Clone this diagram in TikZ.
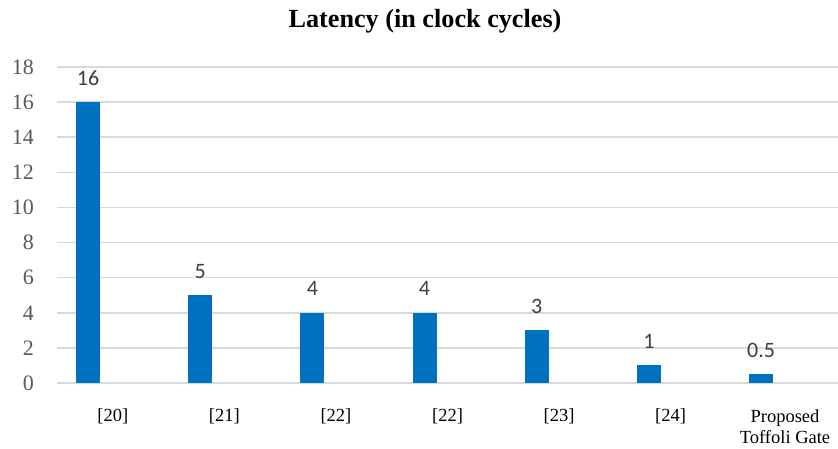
\documentclass[tikz,border=0pt]{standalone}
\usepackage{fontspec}
\setmainfont{Liberation Serif}
\newfontfamily\calfont{Carlito}
\definecolor{barblue}{HTML}{0070C0}
\definecolor{gridgray}{HTML}{D9D9D9}
\definecolor{ticktext}{HTML}{595959}
\definecolor{valtext}{HTML}{404040}
\tikzset{
  gridline/.style={draw=gridgray, line width=1.5pt},
  barfill/.style={fill=barblue},
  ticklbl/.style={anchor=east, inner sep=0pt, text=ticktext, font=\fontsize{22}{24}\selectfont},
  vallbl/.style={anchor=base, inner sep=0pt, text=valtext, font=\calfont\fontsize{22}{24}\selectfont},
  catlbl/.style={anchor=center, inner sep=0pt, align=center, text=black, font=\fontsize{18.5}{20.5}\selectfont},
  titlelbl/.style={anchor=center, inner sep=0pt, font=\bfseries\fontsize{26.2}{28}\selectfont}
}
\begin{document}
\begin{tikzpicture}[x=1pt,y=-1pt]
\useasboundingbox (0,0) rectangle (838,448);
\fill[white] (0,0) rectangle (838,448);
% title
\node[titlelbl] (title) at (425,21) {Latency (in clock cycles)};
% grid and tick labels
\foreach \v [count=\i from 0] in {0,2,4,6,8,10,12,14,16,18} {
  \draw[gridline] (57,{383-17.556*\v}) -- (838,{383-17.556*\v});
  \node[ticklbl] (tick\i) at (34,{383-17.556*\v}) {\v};
}
% bars and value labels
\foreach \val/\lbl [count=\i from 0] in {16/16,5/5,4/4,4/4,3/3,1/1,0.5/0.5} {
  \fill[barfill] ({76+112.17*\i},383) rectangle ({100+112.17*\i},{383-17.556*\val});
  \node[vallbl] (val\i) at ({88+112.17*\i},{383-17.556*\val-17}) {\lbl};
}
% category labels
\foreach \c [count=\i from 0] in {[20],[21],[22],[22],[23],[24]} {
  \node[catlbl] (cat\i) at ({112.8+111.57*\i},416.5) {\c};
}
\node[catlbl] (cat6) at (785,426.5) {Proposed\\Toffoli Gate};
\end{tikzpicture}
\end{document}
